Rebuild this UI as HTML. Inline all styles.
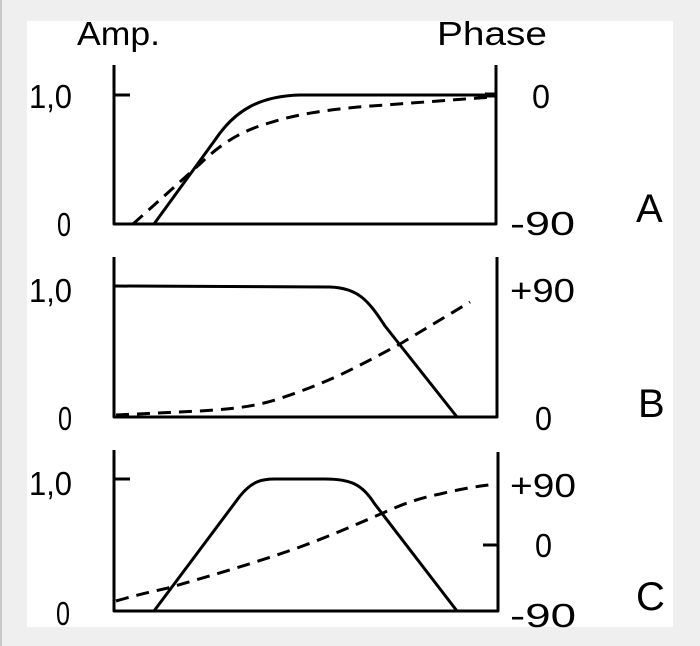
<!DOCTYPE html>
<html><head><style>
html,body{margin:0;padding:0;background:#efefef;}
svg{display:block;}
text{font-family:"Liberation Sans","DejaVu Sans",sans-serif;fill:#000;}
</style></head><body>
<svg width="700" height="646" viewBox="0 0 700 646" xmlns="http://www.w3.org/2000/svg">
<rect x="0" y="0" width="700" height="646" fill="#efefef"/>
<rect x="0" y="0" width="2" height="646" fill="#c8c8c8"/>
<rect x="27" y="21" width="646" height="606" fill="#fff"/>
<g stroke="#000" stroke-width="3" fill="none" stroke-linejoin="round">
<!-- Panel A -->
<path d="M114 65 L114 224 L496 224 L496 65"/>
<path d="M114 95 L130 95"/>
<path d="M154 224 L215 140 C235 110 260 96 300 95 L495 95"/>
<path d="M133 224 L201 163 C225 140 245 130 269 123 C300 113 330 110 358 107 L492 97" stroke-dasharray="13 8"/>
<path d="M485 95 L496 95" stroke-width="5"/>
<!-- Panel B -->
<path d="M114 257 L114 417 L497 417 L497 257"/>
<path d="M114 286 L330 287 C358 288 368 300 385 326 L457 417"/>
<path d="M116 415 L200 411 C235 409 255 406 275 400 C300 392 320 384 340 375 C365 363 385 352 400 344 L470 302" stroke-dasharray="13 8"/>
<!-- Panel C -->
<path d="M114 450 L114 611 L498 611 L498 452"/>
<path d="M114 479 L130 479"/>
<path d="M483 545 L498 545"/>
<path d="M154 611 L240 496 C252 481 262 479 275 479 L325 479 C350 479 362 484 374 503 L457 611"/>
<path d="M116 601 C140 594 155 591 168 588 C210 576 255 563 300 547 C330 536 355 525 383 513 C405 503 420 498 440 494 C465 488 480 486 496 484" stroke-dasharray="13 8"/>
</g>
<g font-size="33">
<text x="77" y="45" textLength="83" lengthAdjust="spacingAndGlyphs">Amp.</text>
<text x="437" y="45" textLength="110" lengthAdjust="spacingAndGlyphs">Phase</text>
<text x="29" y="108" textLength="43" lengthAdjust="spacingAndGlyphs">1,0</text>
<text x="57" y="236" textLength="14" lengthAdjust="spacingAndGlyphs">0</text>
<text x="532" y="108" textLength="18" lengthAdjust="spacingAndGlyphs">0</text>
<text x="510" y="235" textLength="65" lengthAdjust="spacingAndGlyphs">-90</text>
<text x="29" y="302" textLength="43" lengthAdjust="spacingAndGlyphs">1,0</text>
<text x="510" y="302" textLength="65" lengthAdjust="spacingAndGlyphs">+90</text>
<text x="58" y="430" textLength="14" lengthAdjust="spacingAndGlyphs">0</text>
<text x="535" y="430" textLength="17" lengthAdjust="spacingAndGlyphs">0</text>
<text x="29" y="495" textLength="43" lengthAdjust="spacingAndGlyphs">1,0</text>
<text x="510" y="497" textLength="66" lengthAdjust="spacingAndGlyphs">+90</text>
<text x="535" y="557" textLength="17" lengthAdjust="spacingAndGlyphs">0</text>
<text x="56" y="625" textLength="14" lengthAdjust="spacingAndGlyphs">0</text>
<text x="510" y="627" textLength="66" lengthAdjust="spacingAndGlyphs">-90</text>
</g>
<g font-size="40">
<text x="636" y="222">A</text>
<text x="638" y="417">B</text>
<text x="636" y="610">C</text>
</g>
</svg>
</body></html>
